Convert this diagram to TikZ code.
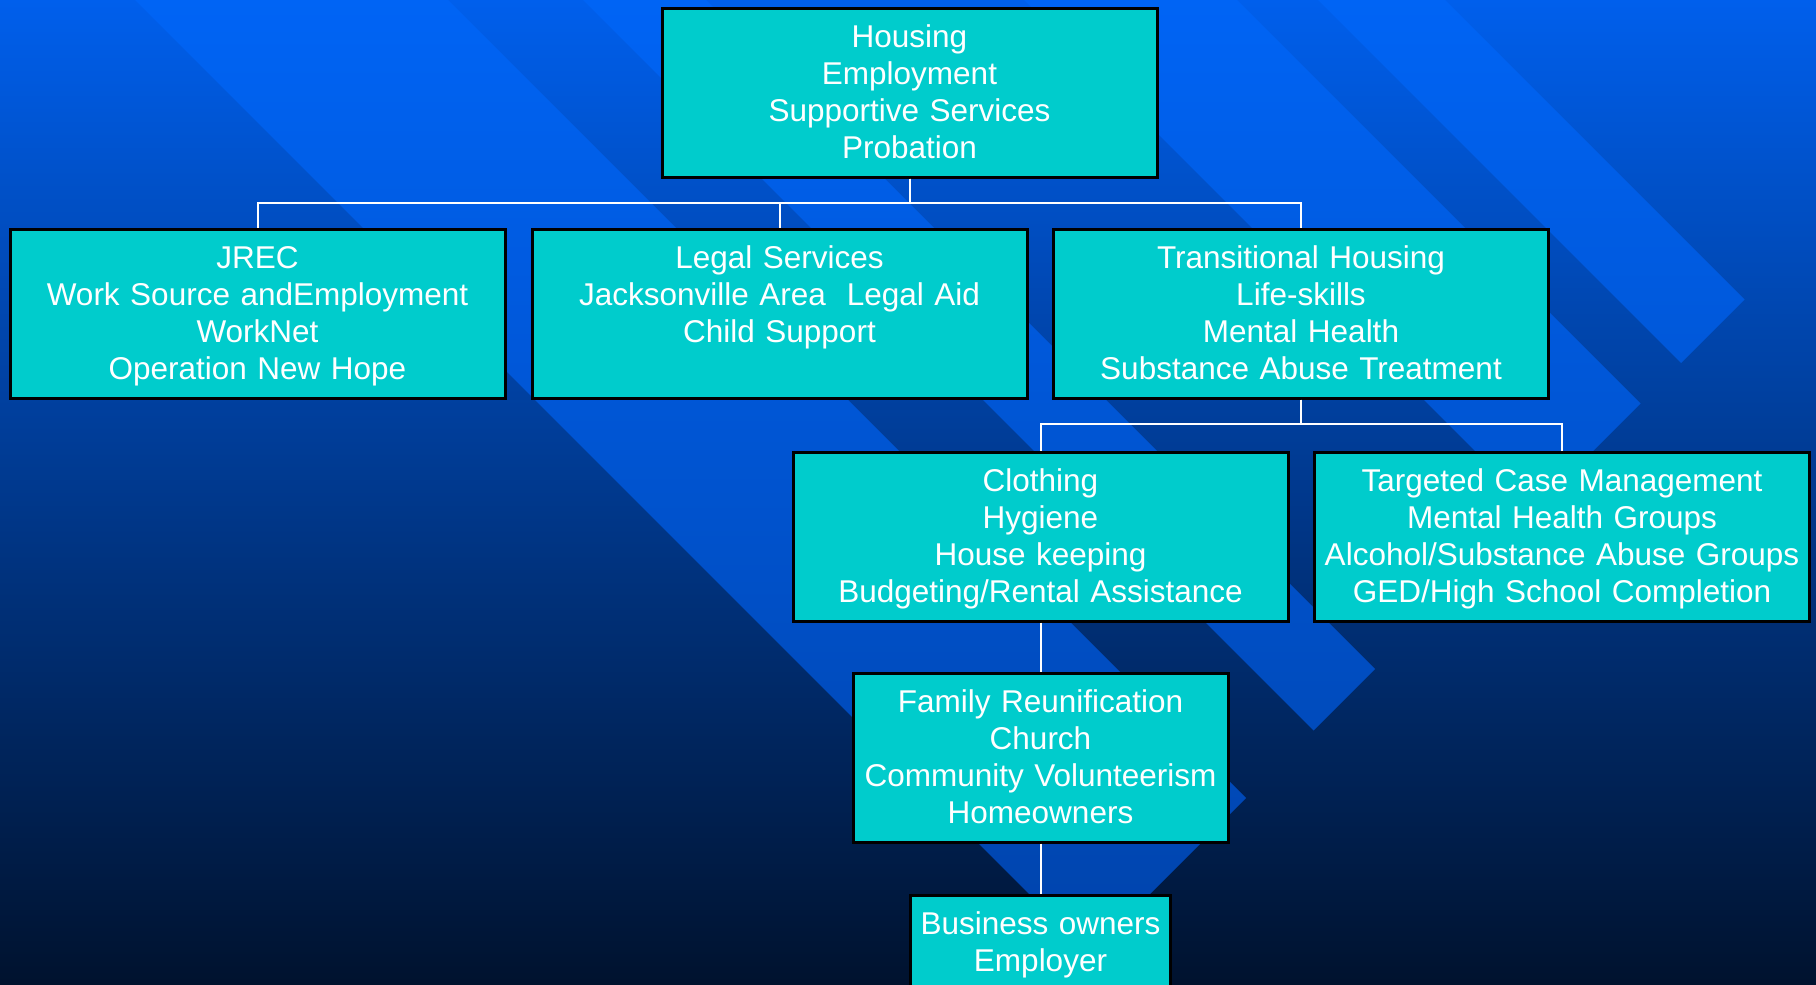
\documentclass[tikz,border=0pt]{standalone}
\usepackage{fontspec}
\setmainfont{Liberation Sans}
\definecolor{unitfill}{RGB}{0,204,204}
\definecolor{bgtop}{RGB}{0,95,236}
\definecolor{bgmid}{RGB}{0,64,165}
\definecolor{bgbot}{RGB}{0,18,46}
\definecolor{bandtop}{RGB}{0,100,245}
\definecolor{bandmid}{RGB}{0,82,204}
\definecolor{bandbot}{RGB}{0,66,168}
\begin{document}
\begin{tikzpicture}[x=1pt, y=-1pt,
 unit/.style={draw=black, line width=3pt, fill=unitfill, text=white, anchor=north, font=\fontsize{31.5}{37}\selectfont, align=center, inner sep=0pt, text height=39.5pt, text depth=129.5pt},
 link/.style={draw=white, line width=2pt}]
 \useasboundingbox (0,0) rectangle (1816,985);
 \clip (0,0) rectangle (1816,985);
 \shade[top color=bgtop, middle color=bgmid, bottom color=bgbot] (0,0) rectangle (1816,985);
 \begin{scope}
  \clip \foreach \a/\b in {135/448, 583/706, 1024/1237, 1318/1445} {(\a,0) -- (\b,0) -- ({(2044+\b)/2},{(2044-\b)/2}) -- ({(2044+\a)/2},{(2044-\a)/2}) -- cycle};
  \shade[top color=bandtop, middle color=bandmid, bottom color=bandbot] (0,0) rectangle (1816,985);
 \end{scope}
 \node[unit, text width=495pt] (hub) at (909.5,6.5) {Housing\\Employment\\Supportive Services\\Probation};
 \node[unit, text width=495pt] (jrec) at (257.5,227.5) {JREC\\Work Source andEmployment\\WorkNet\\Operation New Hope};
 \node[unit, text width=495pt] (legal) at (779.5,227.5) {Legal Services\\Jacksonville Area~ Legal Aid\\Child Support};
 \node[unit, text width=495pt] (trans) at (1301,227.5) {Transitional Housing\\Life-skills\\Mental Health\\Substance Abuse Treatment};
 \node[unit, text width=495pt] (cloth) at (1040.5,450.5) {Clothing\\Hygiene\\House keeping\\Budgeting/Rental Assistance};
 \node[unit, text width=495pt] (tcm) at (1562,450.5) {Targeted Case Management\\Mental Health Groups\\Alcohol/Substance Abuse Groups\\GED/High School Completion};
 \node[unit, text width=375pt] (family) at (1040.5,671.5) {Family Reunification\\Church\\Community Volunteerism\\Homeowners};
 \node[unit, text width=260pt] (business) at (1040.5,893.5) {Business owners\\Employer};
 \foreach \n in {jrec,legal,trans} \draw[link] (hub.south) -- ++(0,24) -| (\n.north);
 \foreach \n in {cloth,tcm} \draw[link] (trans.south) -- ++(0,24) -| (\n.north);
 \draw[link] (cloth.south) -- (family.north);
 \draw[link] (family.south) -- (business.north);
\end{tikzpicture}
\end{document}
